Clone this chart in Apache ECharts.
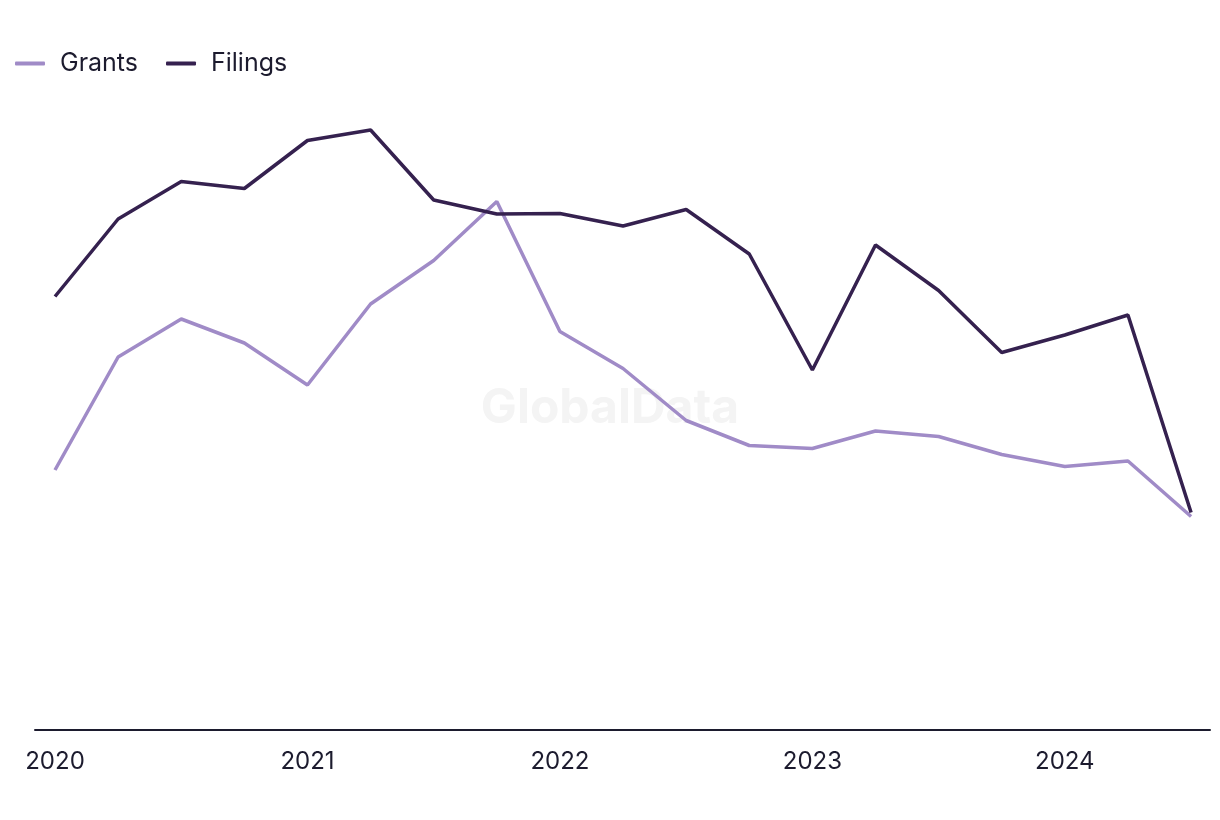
<!DOCTYPE html>
<html>
<head>
<meta charset="utf-8">
<script src="https://cdn.jsdelivr.net/npm/echarts@6/dist/echarts.min.js"></script>
<style>
html,body{margin:0;padding:0;background:#fff;}
#chart{width:1220px;height:820px;}
</style>
</head>
<body>
<div id="chart"></div>
<script>
const quarters = ['2020 Q1','2020 Q2','2020 Q3','2020 Q4','2021 Q1','2021 Q2','2021 Q3','2021 Q4','2022 Q1','2022 Q2','2022 Q3','2022 Q4','2023 Q1','2023 Q2','2023 Q3','2023 Q4','2024 Q1','2024 Q2','2024 Q3'];
const yearLabels = ['2020','2021','2022','2023','2024'];
const grants = [52.0, 74.6, 82.2, 77.4, 69.0, 85.2, 93.9, 105.7, 79.7, 72.3, 61.9, 56.9, 56.3, 59.8, 58.7, 55.1, 52.7, 53.8, 42.7];
const filings = [86.7, 102.2, 109.7, 108.3, 117.9, 120.0, 106.0, 103.2, 103.3, 100.8, 104.1, 95.2, 72.0, 97.0, 87.9, 75.5, 79.0, 83.0, 43.5];

const chart = echarts.init(document.getElementById('chart'));
const FONT = 'Inter, "Liberation Sans", sans-serif';
chart.setOption({
  animation: false,
  backgroundColor: '#ffffff',
  graphic: [{
    type: 'text',
    left: 'center',
    top: 385,
    z: 0,
    style: {
      text: 'GlobalData',
      font: 'bold 48px ' + FONT,
      fill: '#f4f4f4'
    }
  }],
  legend: {
    left: 10,
    top: 46,
    icon: 'roundRect',
    itemWidth: 30,
    itemHeight: 4,
    itemGap: 28,
    textStyle: { fontFamily: FONT, fontSize: 25, color: '#1c1b2e', padding: [0, 0, 0, 10] },
    data: ['Grants', 'Filings']
  },
  grid: { left: 35, right: 10, top: 80, bottom: 90 },
  xAxis: {
    type: 'value',
    min: -0.317,
    max: 18.3,
    splitLine: { show: false },
    axisTick: { show: false },
    axisLine: { show: true, lineStyle: { color: '#1c1b2e', width: 2 } },
    axisLabel: {
      customValues: [0, 4, 8, 12, 16],
      formatter: function (v) { return yearLabels[Math.round(v / 4)]; },
      fontFamily: FONT,
      fontSize: 24,
      color: '#1c1b2e',
      margin: 20
    }
  },
  yAxis: {
    type: 'value',
    min: 0,
    max: 130,
    show: false,
    splitLine: { show: false }
  },
  series: [
    {
      name: 'Grants',
      type: 'line',
      symbol: 'none',
      data: grants.map((v, i) => [i, v]),
      lineStyle: { color: '#a08bc7', width: 3.5 },
      itemStyle: { color: '#a08bc7' },
      z: 3
    },
    {
      name: 'Filings',
      type: 'line',
      symbol: 'none',
      data: filings.map((v, i) => [i, v]),
      lineStyle: { color: '#35214f', width: 3.5 },
      itemStyle: { color: '#35214f' },
      z: 4
    }
  ]
});
</script>
</body>
</html>
